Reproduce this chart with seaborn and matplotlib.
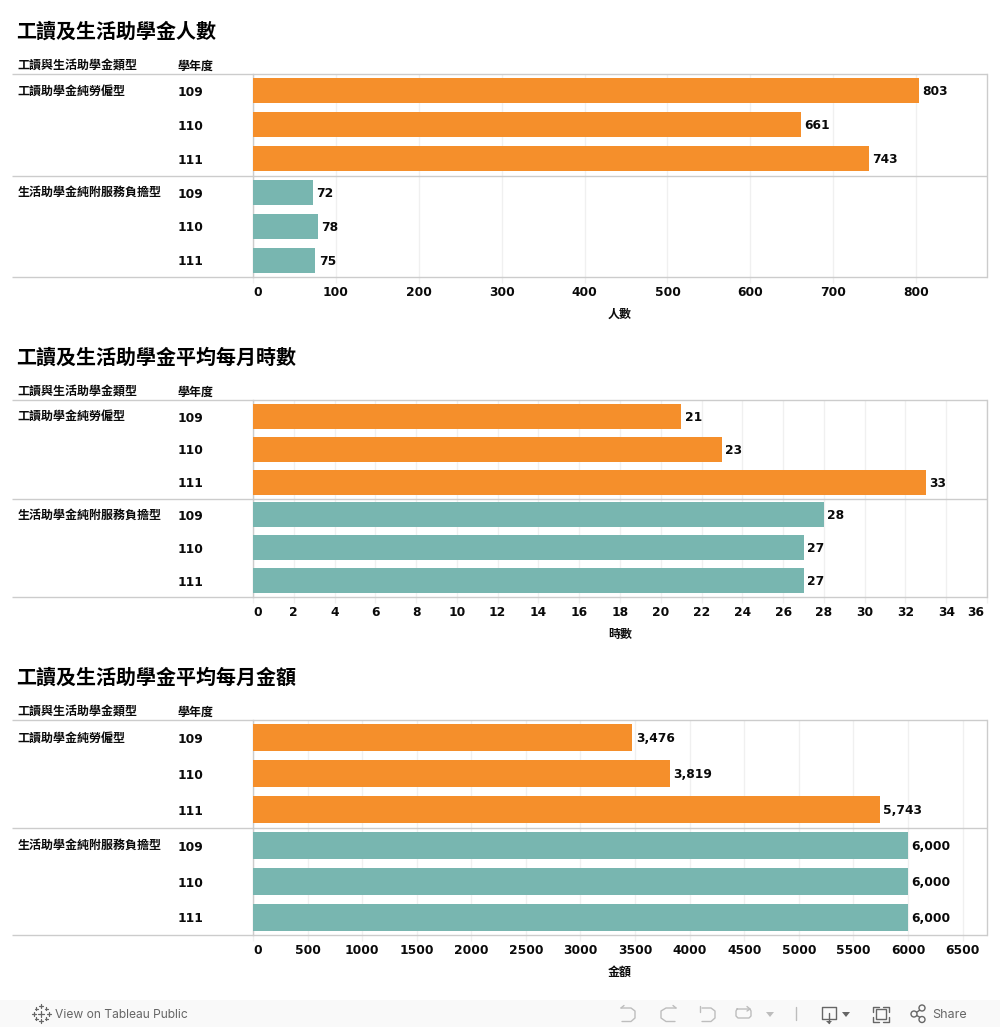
from matplotlib.patches import Rectangle, Circle
from matplotlib.transforms import ScaledTranslation
import matplotlib.pyplot as plt
import seaborn as sns
import pandas as pd

# Data
aid_types = ["工讀助學金純勞僱型", "工讀助學金純勞僱型", "工讀助學金純勞僱型",
             "生活助學金純附服務負擔型", "生活助學金純附服務負擔型", "生活助學金純附服務負擔型"]
school_years = ["109", "110", "111", "109", "110", "111"]
people_counts = [803, 661, 743, 72, 78, 75]
monthly_hours = [21, 23, 33, 28, 27, 27]
monthly_amounts = [3476, 3819, 5743, 6000, 6000, 6000]

titles = ["工讀及生活助學金人數", "工讀及生活助學金平均每月時數", "工讀及生活助學金平均每月金額"]
x_labels = ["人數", "時數", "金額"]
x_ticks = [list(range(0, 900, 100)), list(range(0, 38, 2)), list(range(0, 7000, 500))]
x_maxes = [885.5, 36, 6724]
header_type = "工讀與生活助學金類型"
header_year = "學年度"
type_colors = {"工讀助學金純勞僱型": "#f58f2b", "生活助學金純附服務負擔型": "#78b6b0"}

FIG_W, FIG_H = 1000, 1027
AX_LEFT, AX_RIGHT = 253, 987
# top, bottom, title y, header y, bar thickness in pixels for each panel
panels = [(74, 277, 32, 66.5, 25), (400, 597, 358, 392.5, 25), (720, 935, 678, 712.5, 27)]
LINE = "#cccccc"
FAMILY = ["DejaVu Sans", "Noto Sans CJK TC"]

sns.set_theme(style="whitegrid")
plt.rcParams["font.family"] = FAMILY
plt.rcParams["axes.unicode_minus"] = False

fig = plt.figure(figsize=(10, 10.27), dpi=100, facecolor="white")

# overlay in pixel coordinates for the frame lines, headers and footer
px = fig.add_axes([0, 0, 1, 1], zorder=5)
px.set_xlim(0, FIG_W)
px.set_ylim(FIG_H, 0)
px.axis("off")
px.patch.set_alpha(0)


def draw_panel(values, title, x_label, ticks, x_max, panel):
    top, bottom, title_y, header_y, thickness = panel
    ax = fig.add_axes([AX_LEFT / FIG_W, 1 - bottom / FIG_H,
                       (AX_RIGHT - AX_LEFT) / FIG_W, (bottom - top) / FIG_H])
    df = pd.DataFrame({"row": [f"{t}-{y}" for t, y in zip(aid_types, school_years)],
                       "type": aid_types, "value": values})
    sns.barplot(data=df, x="value", y="row", hue="type", palette=type_colors, dodge=False,
                width=thickness / ((bottom - top) / 6), legend=False, saturation=1,
                linewidth=0, ax=ax, zorder=3)
    ax.set_xlim(0, x_max)
    ax.set_ylim(5.5, -0.5)
    ax.set_ylabel("")
    ax.set_yticks([])
    ax.set_facecolor("white")
    ax.grid(axis="x", color="#f0f0f0", linewidth=1)
    ax.grid(axis="y", visible=False)
    ax.set_axisbelow(True)
    for side in ["top", "bottom"]:
        ax.spines[side].set_visible(False)
    for side in ["left", "right"]:
        ax.spines[side].set_color(LINE)
        ax.spines[side].set_linewidth(1)

    ax.set_xticks(ticks)
    ax.set_xticklabels([str(t) for t in ticks], fontweight="bold", fontsize=8.8, color="#0a0a0a")
    ax.tick_params(axis="x", length=4, width=1, color="#f0f0f0", pad=2.5, bottom=True)
    ax.set_xlabel(x_label, fontweight="bold", fontsize=8.64, color="#0a0a0a", labelpad=6.5)
    ax.get_xticklabels()[0].set_ha("left")
    if ticks[-1] == 36:
        last = ax.get_xticklabels()[-1]
        last.set_ha("right")
        last.set_transform(last.get_transform() + ScaledTranslation(-2 / 72, 0, fig.dpi_scale_trans))

    for container in ax.containers:
        labels = ax.bar_label(container,
                              labels=[f"{v.get_width():,.0f}" if v.get_width() > 0 else "" for v in container],
                              padding=2.5, fontweight="bold", fontsize=8.8, color="#0a0a0a")
        for lab in labels:
            lab.xyann = (lab.xyann[0], lab.xyann[1] - 0.7)

    # row labels follow the categorical rows
    trans = ax.get_yaxis_transform()
    for i, year in enumerate(school_years):
        ax.text((178 - AX_LEFT) / (AX_RIGHT - AX_LEFT), i + 0.05, year, transform=trans, clip_on=False,
                ha="left", va="center", fontweight="bold", fontsize=8.8, color="#0a0a0a")
        if i == 0 or aid_types[i] != aid_types[i - 1]:
            ax.text((17.5 - AX_LEFT) / (AX_RIGHT - AX_LEFT), i, aid_types[i], transform=trans, clip_on=False,
                    ha="left", va="center", fontweight="bold", fontsize=8.64, color="#0a0a0a")

    divider = (top + bottom) / 2
    for y in [top, divider, bottom]:
        px.plot([12, AX_RIGHT], [y, y], color=LINE, linewidth=1, solid_capstyle="butt")
    px.text(16, title_y, title, fontsize=14.4, fontweight="bold", color="black", ha="left", va="center")
    px.text(17.5, header_y, header_type, fontsize=8.64, fontweight="bold", color="#0a0a0a", ha="left", va="center")
    px.text(178, header_y - 0.5, header_year, fontsize=8.64, fontweight="bold", color="#0a0a0a", ha="left", va="center")


series = [people_counts, monthly_hours, monthly_amounts]
for vals, title, xl, ticks, xm, panel in zip(series, titles, x_labels, x_ticks, x_maxes, panels):
    draw_panel(vals, title, xl, ticks, xm, panel)

# Tableau Public toolbar
px.add_patch(Rectangle((0, 1000), FIG_W, 27, facecolor="#f9f9f9", edgecolor="none", zorder=0))
ICON = "#666666"
FAINT = "#bdbdbd"
for cx, cy, s in [(41, 1013.5, 3), (41, 1006, 2), (41, 1021, 2), (33.5, 1013.5, 2), (48.5, 1013.5, 2),
                  (36, 1008.5, 1.5), (46, 1008.5, 1.5), (36, 1018.5, 1.5), (46, 1018.5, 1.5)]:
    px.plot([cx - s, cx + s], [cy, cy], color=ICON, linewidth=0.9)
    px.plot([cx, cx], [cy - s, cy + s], color=ICON, linewidth=0.9)
px.text(55, 1014.5, "View on Tableau Public", family="Inter", fontsize=8.7, color="#666666", ha="left", va="center")
px.text(932, 1014.5, "Share", family="Inter", fontsize=9, color="#666666", ha="left", va="center")

# undo / redo / revert / refresh
px.plot([621, 631, 635, 635, 631, 622], [1008, 1008, 1011, 1018, 1021.5, 1021.5], color=FAINT, linewidth=1)
px.plot([621, 624], [1008, 1005.5], color=FAINT, linewidth=1)
px.plot([676, 666, 661, 661, 666, 675], [1008, 1008, 1011, 1018, 1021.5, 1021.5], color=FAINT, linewidth=1)
px.plot([676, 673], [1008, 1005.5], color=FAINT, linewidth=1)
px.plot([702, 711, 715, 715, 711, 702], [1008, 1008, 1011, 1018, 1021.5, 1021.5], color=FAINT, linewidth=1)
px.plot([700, 700], [1006, 1012], color=FAINT, linewidth=1)
px.plot([737, 750, 751, 751, 749, 738, 736, 736, 737], [1009, 1009, 1011, 1016, 1018, 1018, 1016, 1011, 1009],
        color=FAINT, linewidth=1)
px.plot([747, 750, 747], [1006.5, 1009, 1011], color=FAINT, linewidth=1)
px.fill([766, 774, 770], [1012, 1012, 1017], color=FAINT, linewidth=0)
px.plot([795.5, 795.5], [1007, 1020], color=FAINT, linewidth=1)

# download
px.plot([829, 822, 822, 836, 836, 829], [1019, 1019, 1007, 1007, 1019, 1019], color=ICON, linewidth=1)
px.plot([829, 829], [1013, 1023], color=ICON, linewidth=1)
px.fill([826, 832, 829], [1021, 1021, 1024], color=ICON, linewidth=0)
px.fill([842, 850, 846], [1012, 1012, 1017], color=ICON, linewidth=0)

# fullscreen
px.add_patch(Rectangle((876, 1009), 10, 10, facecolor="none", edgecolor=ICON, linewidth=1))
for xs, ys in [([873, 873, 879], [1012, 1006.5, 1006.5]), ([883, 889, 889], [1006.5, 1006.5, 1012]),
               ([873, 873, 879], [1017, 1021.5, 1021.5]), ([883, 889, 889], [1021.5, 1021.5, 1017])]:
    px.plot(xs, ys, color=ICON, linewidth=1)

# share
px.plot([923, 914, 923], [1008, 1014, 1019], color=ICON, linewidth=1)
for cx, cy in [(922, 1008), (914, 1014), (922, 1019.5)]:
    px.add_patch(Circle((cx, cy), 3, facecolor="#f9f9f9", edgecolor=ICON, linewidth=1, zorder=3))

px.set_xlim(0, FIG_W)
px.set_ylim(FIG_H, 0)

plt.savefig("out.png", dpi=100)
